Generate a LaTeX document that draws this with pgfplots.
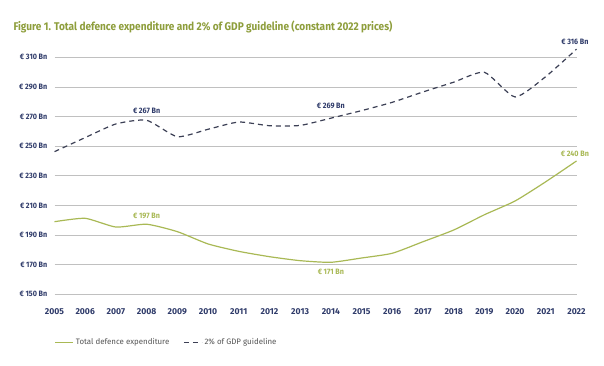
\documentclass[border=0pt]{standalone}
\usepackage{pgfplots}
\pgfplotsset{compat=1.18}
\usepackage{fontspec}
\setmainfont{Fira Sans}
\definecolor{titlegreen}{HTML}{8E9E3C}
\definecolor{linegreen}{HTML}{A9B955}
\definecolor{navy}{HTML}{2F3B6A}
\definecolor{dashc}{HTML}{3C4055}
\definecolor{gridc}{HTML}{C0C0C0}
\definecolor{legtext}{HTML}{555555}
\begin{document}
\begin{tikzpicture}
\path[use as bounding box, fill=white] (0pt,0pt) rectangle (604pt,366pt);
\node[anchor=base west, text=titlegreen, font=\addfontfeatures{FakeStretch=0.9}\bfseries\fontsize{11.2}{13}\selectfont, inner sep=0pt] at (13.3pt,335pt) {Figure 1. Total defence expenditure and 2\% of GDP guideline (constant 2022 prices)};
\begin{axis}[
  at={(54.5pt,71.7pt)}, anchor=south west, scale only axis,
  width=522pt, height=237pt,
  xmin=2005, xmax=2022, ymin=150, ymax=310,
  clip=false,
  axis line style={draw=none},
  major tick length=0pt,
  ymajorgrids, grid style={gridc, line width=0.8pt},
  xtick={2005,...,2022},
  xticklabels={2005,2006,2007,2008,2009,2010,2011,2012,2013,2014,2015,2016,2017,2018,2019,2020,2021,2022},
  ytick={150,170,...,310},
  yticklabels={€ 150 Bn,€ 170 Bn,€ 190 Bn,€ 210 Bn,€ 230 Bn,€ 250 Bn,€ 270 Bn,€ 290 Bn,€ 310 Bn},
  yticklabel style={inner sep=0pt, xshift=-7pt, text=navy, font=\addfontfeatures{FakeStretch=0.92}\bfseries\fontsize{7.8}{9}\selectfont},
  xticklabel style={inner sep=0pt, yshift=-14pt, text=navy, font=\bfseries\fontsize{8.6}{10}\selectfont},
  legend columns=2,
  legend style={at={(rel axis cs:0,-0.204)}, anchor=west, draw=none, fill=none, inner sep=0pt,
    font=\fontsize{7.9}{9}\selectfont, text=legtext,
    /tikz/every even column/.append style={column sep=12pt}},
  legend image code/.code={\draw[#1] (0pt,0pt) -- (18pt,0pt);},
]
\addplot[linegreen, line width=1.2pt, smooth, tension=0.35] coordinates {
(2005,199.0) (2006,201.3) (2007,195.4) (2008,197.3) (2009,192.3) (2010,184.0)
(2011,179.0) (2012,175.4) (2013,172.7) (2014,171.6) (2015,174.5) (2016,177.7)
(2017,185.5) (2018,193.4) (2019,203.7) (2020,213.0) (2021,226.0) (2022,240.0)};
\addlegendentry{Total defence expenditure}
\addplot[dashc, line width=1.2pt, dash pattern=on 5pt off 4pt, smooth, tension=0.35] coordinates {
(2005,246.3) (2006,255.8) (2007,265.0) (2008,267.5) (2009,256.4) (2010,261.4)
(2011,266.3) (2012,263.8) (2013,264.0) (2014,268.9) (2015,274.0) (2016,279.6)
(2017,286.6) (2018,293.2) (2019,299.9) (2020,283.2) (2021,297.0) (2022,315.5)};
\addlegendentry{2\% of GDP guideline}
\begin{scope}[every node/.style={font=\addfontfeatures{FakeStretch=0.92}\bfseries\fontsize{7.8}{9}\selectfont, inner sep=0pt}]
\node[text=navy] at (axis cs:2008,274) {€ 267 Bn};
\node[text=navy] at (axis cs:2014,277.1) {€ 269 Bn};
\node[text=navy] at (axis cs:2021.95,320.2) {€ 316 Bn};
\node[text=linegreen] at (axis cs:2008,202.9) {€ 197 Bn};
\node[text=linegreen] at (axis cs:2014,164.9) {€ 171 Bn};
\node[text=linegreen] at (axis cs:2021.95,244.7) {€ 240 Bn};
\end{scope}
\end{axis}
\end{tikzpicture}
\end{document}
